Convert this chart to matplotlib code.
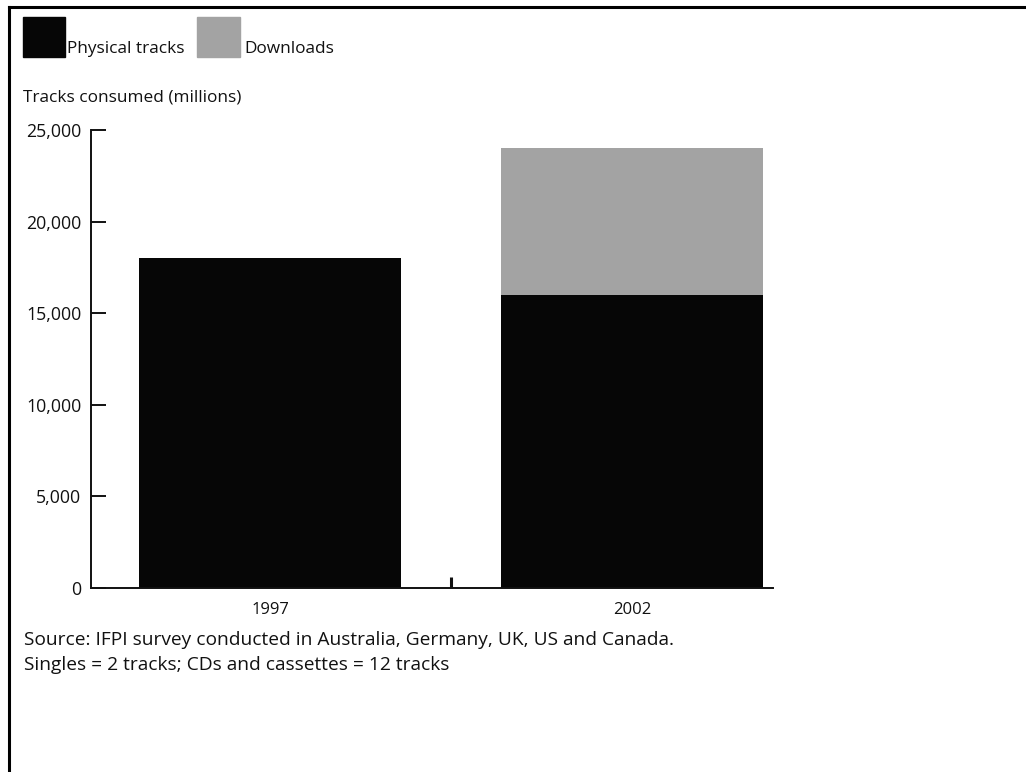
import matplotlib
matplotlib.use("Agg")
import matplotlib.pyplot as plt
from matplotlib.lines import Line2D
from matplotlib.patches import Rectangle

# Data
years = ["1997", "2002"]
physical_tracks = [18000, 16000]
downloads = [0, 8000]
y_ticks = [0, 5000, 10000, 15000, 20000, 25000]
y_tick_labels = ["0", "5,000", "10,000", "15,000", "20,000", "25,000"]

W, H = 1026, 772
plt.rcParams["font.family"] = ["Open Sans", "DejaVu Sans"]

fig = plt.figure(figsize=(W / 100, H / 100), dpi=100)
fig.patch.set_facecolor("white")


def fx(px):
    return px / W


def fy(py):
    return 1 - py / H


# Frame lines on the top and left edges
fig.add_artist(Line2D([fx(9), fx(W)], [fy(7), fy(7)], color="black", lw=2.2))
fig.add_artist(Line2D([fx(9), fx(9)], [fy(7), fy(H)], color="black", lw=2.2))

ax = fig.add_axes([fx(91), fy(588), fx(773) - fx(91), fy(130) - fy(588)])
x = list(range(len(years)))
bar_w = 0.724
ax.bar(x, physical_tracks, width=bar_w, color="#060606", label="Physical tracks")
ax.bar(x, downloads, width=bar_w, bottom=physical_tracks, color="#a3a3a3",
       label="Downloads")

ax.set_xlim(-0.4945, 1.3895)
ax.set_ylim(0, 25000)
ax.set_yticks(y_ticks)
ax.set_yticklabels(y_tick_labels)
ax.set_xticks(x)
ax.set_xticklabels(years)
ax.set_xticks([0.5], minor=True)

for side in ("top", "right"):
    ax.spines[side].set_visible(False)
for side in ("left", "bottom"):
    ax.spines[side].set_linewidth(1.4)
    ax.spines[side].set_color("#111111")

ax.tick_params(axis="y", direction="in", length=11, width=1.4, pad=7,
               labelsize=12.8, colors="#111111")
ax.tick_params(axis="x", which="major", length=0, pad=10, labelsize=12,
               colors="#111111")
ax.tick_params(axis="x", which="minor", direction="in", length=8, width=2.2,
               color="#111111")

# Legend drawn as swatches with labels
fig.add_artist(Rectangle((fx(23), fy(57)), fx(65) - fx(23), fy(17) - fy(57),
                         color="#060606", transform=fig.transFigure))
fig.text(fx(67), fy(49), "Physical tracks", fontsize=12.4, va="center",
         ha="left", color="#111111")
fig.add_artist(Rectangle((fx(197), fy(57)), fx(240) - fx(197), fy(17) - fy(57),
                         color="#a3a3a3", transform=fig.transFigure))
fig.text(fx(244), fy(49), "Downloads", fontsize=12.4, va="center",
         ha="left", color="#111111")

fig.text(fx(23), fy(97), "Tracks consumed (millions)", fontsize=12.4,
         va="center", ha="left", color="#111111")

fig.text(fx(24), fy(640),
         "Source: IFPI survey conducted in Australia, Germany, UK, US and Canada.",
         fontsize=13.8, va="center", ha="left", color="#111111")
fig.text(fx(24), fy(665), "Singles = 2 tracks; CDs and cassettes = 12 tracks",
         fontsize=13.8, va="center", ha="left", color="#111111")

fig.savefig("out.png", dpi=100, facecolor="white")
